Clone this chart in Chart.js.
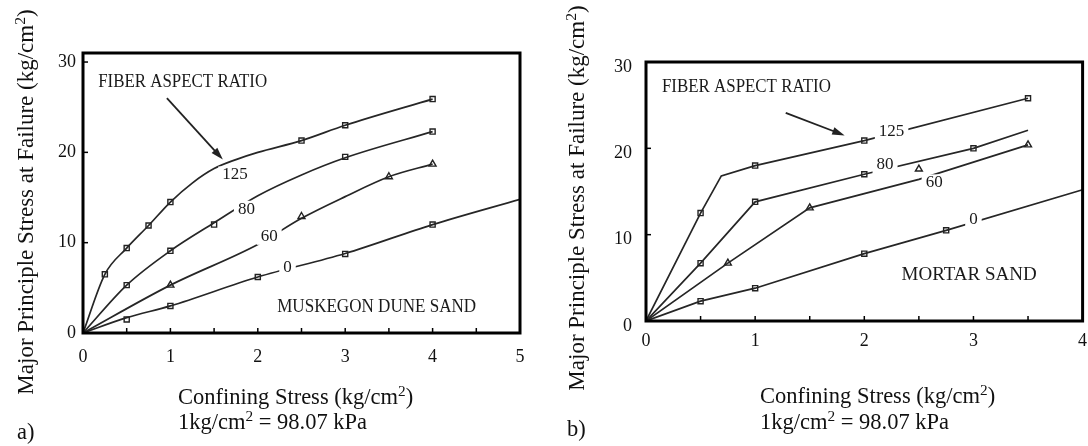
<!DOCTYPE html>
<html lang="en">
<head>
    <meta charset="UTF-8">
    <title>Fiber aspect ratio - major principal stress</title>
    <script src="https://cdn.jsdelivr.net/npm/chart.js"></script>
    <style>
        body {
            margin: 0;
            width: 1088px;
            height: 446px;
            background: #fff;
            position: relative;
            overflow: hidden;
            font-family: 'Liberation Serif', 'Times New Roman', serif;
            color: #111;
        }
        canvas { position: absolute; top: 0; }
        #chartA { left: 0; }
        #chartB { left: 544px; }
        .txt {
            position: absolute;
            font-size: 22.5px;
            white-space: nowrap;
            line-height: 1;
        }
        .ytitle {
            font-size: 23px;
            transform: translate(-50%, -50%) rotate(-90deg);
        }
        sup { font-size: 0.68em; vertical-align: 0.5em; line-height: 0; }
    </style>
</head>
<body>
    <canvas id="chartA" width="544" height="446"></canvas>
    <canvas id="chartB" width="544" height="446"></canvas>

    <div class="txt ytitle" style="left:25px; top:202px;">Major Principle Stress at Failure (kg/cm<sup>2</sup>)</div>
    <div class="txt ytitle" style="left:576px; top:198px;">Major Principle Stress at Failure (kg/cm<sup>2</sup>)</div>

    <div class="txt" style="left:178px; top:386px;">Confining Stress (kg/cm<sup>2</sup>)</div>
    <div class="txt" style="left:178px; top:411px;">1kg/cm<sup>2</sup> = 98.07 kPa</div>
    <div class="txt" style="left:760px; top:385px;">Confining Stress (kg/cm<sup>2</sup>)</div>
    <div class="txt" style="left:760px; top:411px;">1kg/cm<sup>2</sup> = 98.07 kPa</div>

    <div class="txt" style="left:17px; top:421px;">a)</div>
    <div class="txt" style="left:567px; top:418px;">b)</div>

    <script>
        // ---- a) Muskegon dune sand ----
        // traced curve points (x = confining stress, y = major principal stress)
        const a125CurveX = [0, 0.25, 0.5, 0.75, 1.0, 1.25, 1.5, 1.75, 2.0, 2.5, 3.0, 4.0];
        const a125CurveY = [0, 6.5, 9.4, 11.9, 14.5, 16.6, 18.2, 19.2, 20.0, 21.3, 23.0, 25.9];
        const a125MarkX = [0.25, 0.5, 0.75, 1.0, 2.5, 3.0, 4.0];
        const a125MarkY = [6.5, 9.4, 11.9, 14.5, 21.3, 23.0, 25.9];

        const a80CurveX = [0, 0.5, 1.0, 1.5, 2.0, 2.5, 3.0, 4.0];
        const a80CurveY = [0, 5.3, 9.1, 12.2, 15.2, 17.5, 19.4, 22.3];
        const a80MarkX = [0.5, 1.0, 1.5, 3.0, 4.0];
        const a80MarkY = [5.3, 9.1, 12.0, 19.5, 22.3];

        const a60CurveX = [0, 1.0, 2.0, 2.5, 3.0, 3.5, 4.0];
        const a60CurveY = [0, 5.3, 9.8, 12.7, 15.1, 17.3, 18.7];
        const a60MarkX = [1.0, 2.5, 3.5, 4.0];
        const a60MarkY = [5.3, 12.9, 17.3, 18.7];

        const a0CurveX = [0, 0.5, 1.0, 2.0, 3.0, 4.0, 5.0];
        const a0CurveY = [0, 1.7, 3.0, 6.2, 8.8, 12.0, 14.8];
        const a0MarkX = [0.5, 1.0, 2.0, 3.0, 4.0];
        const a0MarkY = [1.5, 3.0, 6.2, 8.75, 12.0];

        // ---- b) Mortar sand ----
        const b125CurveX = [0, 0.5, 0.69, 1.0, 2.0, 3.5];
        const b125CurveY = [0, 12.5, 16.8, 18.0, 20.9, 25.8];
        const b125MarkX = [0.5, 1.0, 2.0, 3.5];
        const b125MarkY = [12.5, 18.0, 20.9, 25.8];

        const b80CurveX = [0, 0.5, 1.0, 2.0, 3.0, 3.5];
        const b80CurveY = [0, 6.7, 13.8, 17.0, 20.0, 22.1];
        const b80MarkX = [0.5, 1.0, 2.0, 3.0];
        const b80MarkY = [6.7, 13.8, 17.0, 20.0];

        const b60CurveX = [0, 0.75, 1.5, 2.5, 3.5];
        const b60CurveY = [0, 6.7, 13.1, 16.4, 20.4];
        const b60MarkX = [0.75, 1.5, 2.5, 3.5];
        const b60MarkY = [6.7, 13.1, 17.6, 20.4];

        const b0CurveX = [0, 0.5, 1.0, 2.0, 2.75, 4.0];
        const b0CurveY = [0, 2.3, 3.8, 7.8, 10.5, 15.2];
        const b0MarkX = [0.5, 1.0, 2.0, 2.75];
        const b0MarkY = [2.3, 3.8, 7.8, 10.5];

        const xTicksA = [0, 1, 2, 3, 4, 5];
        const xTicksB = [0, 1, 2, 3, 4];
        const yTicks = [0, 10, 20, 30];

        const pts = (xs, ys) => xs.map((x, i) => ({ x: x, y: ys[i] }));
        const INK = '#222';

        function curve(xs, ys, smooth) {
            return {
                data: pts(xs, ys),
                borderColor: '#262626',
                borderWidth: 1.7,
                pointRadius: 0,
                fill: false,
                tension: 0,
                cubicInterpolationMode: smooth ? 'monotone' : 'default'
            };
        }
        function marks(xs, ys, style) {
            return {
                data: pts(xs, ys),
                showLine: false,
                pointStyle: style,
                pointRadius: style === 'triangle' ? 4 : 3.6,
                pointBackgroundColor: '#fff',
                pointBorderColor: INK,
                pointBorderWidth: 1.4
            };
        }

        // frame, inward ticks, in-plot labels and arrow
        const decor = {
            id: 'decor',
            afterDatasetsDraw(chart, args, opts) {
                const { ctx, chartArea: a, scales: { x, y } } = chart;
                ctx.save();
                ctx.strokeStyle = '#000';
                ctx.lineWidth = 1.5;
                x.ticks.forEach(t => {
                    const px = x.getPixelForValue(t.value);
                    ctx.beginPath(); ctx.moveTo(px, a.bottom); ctx.lineTo(px, a.bottom - 5); ctx.stroke();
                });
                y.ticks.forEach(t => {
                    const py = y.getPixelForValue(t.value);
                    ctx.beginPath(); ctx.moveTo(a.left, py); ctx.lineTo(a.left + 5, py); ctx.stroke();
                });
                ctx.lineWidth = 3;
                ctx.strokeRect(a.left, a.top, a.right - a.left, a.bottom - a.top);

                // arrow
                const ar = opts.arrow;
                const x1 = x.getPixelForValue(ar[0]), y1 = y.getPixelForValue(ar[1]);
                const x2 = x.getPixelForValue(ar[2]), y2 = y.getPixelForValue(ar[3]);
                const ang = Math.atan2(y2 - y1, x2 - x1);
                ctx.lineWidth = 1.8;
                ctx.strokeStyle = INK;
                ctx.beginPath(); ctx.moveTo(x1, y1); ctx.lineTo(x2 - 6 * Math.cos(ang), y2 - 6 * Math.sin(ang)); ctx.stroke();
                ctx.fillStyle = INK;
                ctx.beginPath();
                ctx.moveTo(x2, y2);
                ctx.lineTo(x2 - 13 * Math.cos(ang - 0.3), y2 - 13 * Math.sin(ang - 0.3));
                ctx.lineTo(x2 - 13 * Math.cos(ang + 0.3), y2 - 13 * Math.sin(ang + 0.3));
                ctx.closePath(); ctx.fill();

                // text notes
                ctx.textAlign = 'center';
                ctx.textBaseline = 'middle';
                opts.notes.forEach(n => {
                    const px = x.getPixelForValue(n.x), py = y.getPixelForValue(n.y);
                    ctx.font = n.size + "px 'Liberation Serif', serif";
                    let w = ctx.measureText(n.text).width;
                    if (n.maxW) w = Math.min(w, n.maxW);
                    if (n.knock) {
                        ctx.fillStyle = '#fff';
                        ctx.fillRect(px - w / 2 - 4, py - n.size / 2, w + 8, n.size);
                    }
                    ctx.fillStyle = '#1a1a1a';
                    if (n.maxW) ctx.fillText(n.text, px, py, n.maxW);
                    else ctx.fillText(n.text, px, py);
                });
                ctx.restore();
            }
        };

        function makeChart(id, sets, cfg) {
            const tickFont = { family: "'Liberation Serif', serif", size: 18 };
            return new Chart(document.getElementById(id), {
                type: 'line',
                data: { datasets: sets },
                options: {
                    responsive: false,
                    animation: false,
                    devicePixelRatio: 1,
                    layout: { padding: { top: cfg.top, right: cfg.right, left: 0, bottom: 0 } },
                    plugins: {
                        legend: { display: false },
                        tooltip: { enabled: false },
                        decor: { notes: cfg.notes, arrow: cfg.arrow }
                    },
                    scales: {
                        x: {
                            type: 'linear',
                            min: 0, max: cfg.xMax,
                            grid: { display: false, drawTicks: false },
                            border: { display: false },
                            ticks: {
                                stepSize: 0.5, autoSkip: false, maxRotation: 0,
                                padding: cfg.xPad, color: '#111', font: tickFont,
                                callback: v => cfg.xTicks.includes(v) ? String(v) : ''
                            },
                            afterFit: s => { s.height = cfg.xH; s.paddingLeft = 0; s.paddingRight = 0; }
                        },
                        y: {
                            min: 0, max: cfg.yMax,
                            grid: { display: false, drawTicks: false },
                            border: { display: false },
                            ticks: {
                                stepSize: 10, includeBounds: false,
                                padding: cfg.yPad, labelOffset: cfg.yOff, color: '#111', font: tickFont,
                                callback: v => yTicks.includes(v) ? String(v) : ''
                            },
                            afterFit: s => { s.width = cfg.yW; s.paddingTop = 0; s.paddingBottom = 0; }
                        }
                    }
                },
                plugins: [decor]
            });
        }

        makeChart('chartA', [
            curve(a125CurveX, a125CurveY, true), marks(a125MarkX, a125MarkY, 'rect'),
            curve(a80CurveX, a80CurveY, true), marks(a80MarkX, a80MarkY, 'rect'),
            curve(a60CurveX, a60CurveY, true), marks(a60MarkX, a60MarkY, 'triangle'),
            curve(a0CurveX, a0CurveY, true), marks(a0MarkX, a0MarkY, 'rect')
        ], {
            top: 53, right: 24, xH: 113, yW: 83, xMax: 5, yMax: 31,
            xPad: 13, yPad: 7, yOff: 0, xTicks: xTicksA,
            arrow: [0.96, 26.0, 1.6, 19.2],
            notes: [
                { text: 'FIBER ASPECT RATIO', x: 1.14, y: 27.8, size: 19, maxW: 169 },
                { text: '125', x: 1.74, y: 17.5, size: 17, knock: true },
                { text: '80', x: 1.87, y: 13.7, size: 17, knock: true },
                { text: '60', x: 2.13, y: 10.7, size: 17, knock: true },
                { text: '0', x: 2.34, y: 7.2, size: 17, knock: true },
                { text: 'MUSKEGON DUNE SAND', x: 3.36, y: 2.85, size: 19, maxW: 199 }
            ]
        });

        makeChart('chartB', [
            curve(b125CurveX, b125CurveY, false), marks(b125MarkX, b125MarkY, 'rect'),
            curve(b80CurveX, b80CurveY, false), marks(b80MarkX, b80MarkY, 'rect'),
            curve(b60CurveX, b60CurveY, false), marks(b60MarkX, b60MarkY, 'triangle'),
            curve(b0CurveX, b0CurveY, false), marks(b0MarkX, b0MarkY, 'rect')
        ], {
            top: 62, right: 2, xH: 125, yW: 102, xMax: 4, yMax: 30,
            xPad: 9, yPad: 14, yOff: 5, xTicks: xTicksB,
            arrow: [1.28, 24.1, 1.82, 21.5],
            notes: [
                { text: 'FIBER ASPECT RATIO', x: 0.92, y: 27.1, size: 19, maxW: 169 },
                { text: '125', x: 2.25, y: 22.0, size: 17, knock: true },
                { text: '80', x: 2.19, y: 18.1, size: 17, knock: true },
                { text: '60', x: 2.64, y: 16.0, size: 17, knock: true },
                { text: '0', x: 3.0, y: 11.7, size: 17, knock: true },
                { text: 'MORTAR SAND', x: 2.96, y: 5.3, size: 19 }
            ]
        });
    </script>
</body>
</html>
